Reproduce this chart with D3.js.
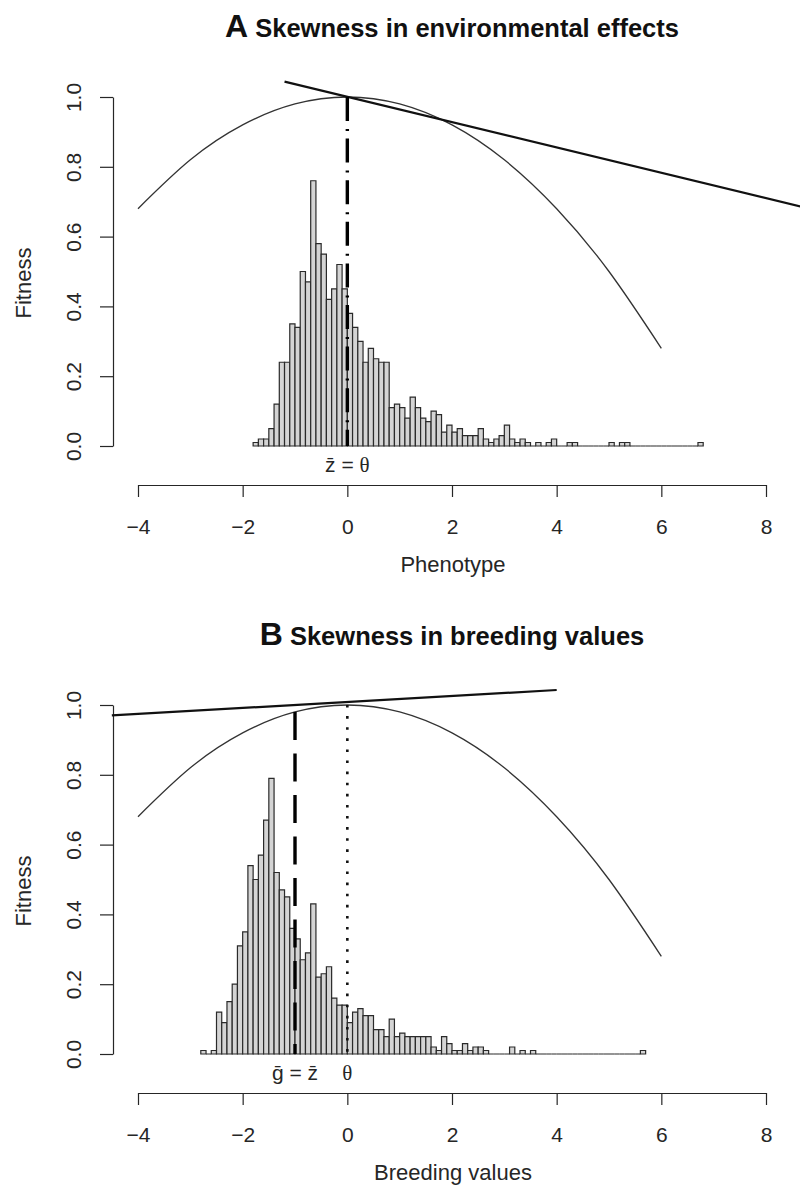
<!DOCTYPE html>
<html><head><meta charset="utf-8">
<script src="https://cdn.jsdelivr.net/npm/d3@7"></script>
<style>body{margin:0;background:#fff}</style>
</head><body>
<svg id="c" width="800" height="1194"></svg>
<script>
// ---------------- data ----------------
const binWidth = 0.1;
const binStartA = -1.8;
const countsA = [0.01,0.02,0.02,0.05,0.12,0.24,0.24,0.35,0.34,0.50,
                 0.47,0.76,0.58,0.55,0.42,0.45,0.52,0.45,0.38,0.34,
                 0.30,0.24,0.28,0.25,0.24,0.24,0.11,0.12,0.11,0.08,
                 0.14,0.11,0.08,0.07,0.10,0.09,0.04,0.06,0.04,0.05,
                 0.03,0.03,0.03,0.05,0.02,0.01,0.02,0.03,0.06,0.02,
                 0.01,0.02,0.01,0,0.01,0,0.01,0.02,0,0,
                 0.01,0.01,0,0,0,0,0,0,0.01,0,
                 0.01,0.01,0,0,0,0,0,0,0,0,
                 0,0,0,0,0,0.01];
const binStartB = -2.8;
const countsB = [0.01,0,0.01,0.12,0.09,0.15,0.20,0.31,0.35,0.54,
                 0.50,0.57,0.67,0.79,0.52,0.47,0.45,0.36,0.33,0.27,
                 0.29,0.43,0.22,0.23,0.25,0.16,0.14,0.14,0.09,0.12,
                 0.13,0.11,0.11,0.07,0.07,0.05,0.10,0.05,0.06,0.05,
                 0.05,0.05,0.05,0.05,0.02,0.01,0.05,0.03,0.01,0.01,
                 0.03,0.01,0.02,0.02,0.01,0,0,0,0,0.02,
                 0,0.01,0,0.01,0,0,0,0,0,0,
                 0,0,0,0,0,0,0,0,0,0,
                 0,0,0,0,0.01];
const fitX = [-4,-3,-2,-1,0,1,2,3,4,5,6];
const fitY = [0.68,0.82,0.92,0.98,1.00,0.98,0.92,0.82,0.68,0.50,0.28];
const xTicks = [-4,-2,0,2,4,6,8];
const yTicks = [0,0.2,0.4,0.6,0.8,1.0];
const lineAX = [-1.2, 8.7], lineAY = [1.044, 0.685];
const lineBX = [-4.5, 4.0], lineBY = [0.970, 1.043];
const meanA = 0, meanATop = 1.0;          // dot-dash in A
const meanB = -1, meanBTop = 0.98;        // dashed in B
const thetaB = 0, thetaBTop = 1.0;        // dotted in B
const titlesLetter = ["A","B"];
const titlesText = [" Skewness in environmental effects"," Skewness in breeding values"];
const xLabels = ["Phenotype","Breeding values"];

// ---------------- drawing ----------------
const svg = d3.select("#c");
const SANS = "'Liberation Sans', Arial, Helvetica, sans-serif";
const SERIF = "'Liberation Serif', 'Times New Roman', serif";
const INK = "#262626";
const x = d3.scaleLinear([-4, 8], [138, 766]);

function makeBins(start, counts){
  return counts.map((v,i)=>({x0:+(start+i*binWidth).toFixed(2), x1:+(start+(i+1)*binWidth).toFixed(2), v}));
}

function panel(off, counts, start, idx){
  const y = d3.scaleLinear([0,1],[446+off, 97+off]);
  const g = svg.append("g");

  // title
  const t = g.append("text").attr("x",452).attr("y",37+off).attr("text-anchor","middle")
    .attr("font-family",SANS).attr("font-weight","bold").attr("fill","#111");
  t.append("tspan").attr("font-size",32).text(titlesLetter[idx]);
  t.append("tspan").attr("font-size",25.5).text(titlesText[idx]);

  // histogram
  g.selectAll("path.bar").data(makeBins(start, counts)).join("path")
    .attr("class","bar")
    .attr("d", d=>{const p=d3.path(); p.moveTo(x(d.x0),y(0)); p.lineTo(x(d.x0),y(d.v)); p.lineTo(x(d.x1),y(d.v)); p.lineTo(x(d.x1),y(0)); p.closePath(); return p.toString();})
    .attr("fill","#d4d4d4").attr("stroke","#2a2a2a").attr("stroke-width",1.2);

  // fitness curve
  g.append("path").datum(fitX.map((v,i)=>[v,fitY[i]]))
    .attr("d", d3.line().x(d=>x(d[0])).y(d=>y(d[1])).curve(d3.curveNatural))
    .attr("fill","none").attr("stroke","#333").attr("stroke-width",1.3);

  // axes
  const xa = g.append("g").attr("transform",`translate(0,${485+off})`)
    .call(d3.axisBottom(x).tickValues(xTicks).tickSize(12).tickSizeOuter(0).tickPadding(22)
      .tickFormat(d=> d<0 ? "\u2212"+Math.abs(d) : String(d)));
  xa.attr("font-size",21).attr("font-family",SANS).attr("color",INK);
  xa.selectAll("path,line").attr("stroke-width",1.2);

  const ya = g.append("g").attr("transform",`translate(113,0)`)
    .call(d3.axisLeft(y).tickValues(yTicks).tickSize(13).tickSizeOuter(0).tickFormat(d3.format(".1f")));
  ya.attr("font-size",21).attr("font-family",SANS).attr("color",INK);
  ya.selectAll("path,line").attr("stroke-width",1.2);
  ya.selectAll("text").attr("x",0).attr("y",0).attr("dy",null)
    .attr("text-anchor","middle").attr("transform","translate(-32,0) rotate(-90)");

  g.append("text").attr("transform",`translate(31,${283+off}) rotate(-90)`)
    .attr("text-anchor","middle").attr("font-family",SANS).attr("font-size",22)
    .attr("fill",INK).text("Fitness");
  g.append("text").attr("x",453).attr("y",572+off).attr("text-anchor","middle")
    .attr("font-family",SANS).attr("font-size",22).attr("fill",INK).text(xLabels[idx]);
  return {g,y};
}

// Panel A
const A = panel(0, countsA, binStartA, 0);
A.g.append("line").attr("x1",x(lineAX[0])).attr("y1",A.y(lineAY[0])).attr("x2",x(lineAX[1])).attr("y2",A.y(lineAY[1]))
  .attr("stroke","#111").attr("stroke-width",2.2);
A.g.append("line").attr("x1",x(meanA)).attr("y1",A.y(meanATop)).attr("x2",x(meanA)).attr("y2",A.y(0))
  .attr("stroke","#000").attr("stroke-width",3.4).attr("stroke-dasharray","24,8,2,7.6");
{
  const t = A.g.append("text").attr("x",x(0)).attr("y",472).attr("text-anchor","middle")
    .attr("font-size",21).attr("fill",INK).attr("font-family",SANS);
  t.append("tspan").text("z\u0304 = ");
  t.append("tspan").attr("font-family",SERIF).text("\u03B8");
}

// Panel B
const off = 608;
const B = panel(off, countsB, binStartB, 1);
B.g.append("line").attr("x1",x(lineBX[0])).attr("y1",B.y(lineBY[0])).attr("x2",x(lineBX[1])).attr("y2",B.y(lineBY[1]))
  .attr("stroke","#111").attr("stroke-width",2.2);
B.g.append("line").attr("x1",x(meanB)).attr("y1",B.y(meanBTop)).attr("x2",x(meanB)).attr("y2",B.y(0))
  .attr("stroke","#000").attr("stroke-width",3.4).attr("stroke-dasharray","28,13.5");
B.g.append("line").attr("x1",x(thetaB)).attr("y1",B.y(thetaBTop)).attr("x2",x(thetaB)).attr("y2",B.y(0))
  .attr("stroke","#111").attr("stroke-width",2.6).attr("stroke-dasharray","2.6,8.5");
{
  const t = B.g.append("text").attr("x",x(meanB)).attr("y",472+off).attr("text-anchor","middle")
    .attr("font-size",21).attr("fill",INK).attr("font-family",SANS);
  t.text("g\u0304 = z\u0304");
  B.g.append("text").attr("x",x(thetaB)).attr("y",472+off).attr("text-anchor","middle")
    .attr("font-size",21).attr("fill",INK).attr("font-family",SERIF).text("\u03B8");
}
</script>
</body></html>
